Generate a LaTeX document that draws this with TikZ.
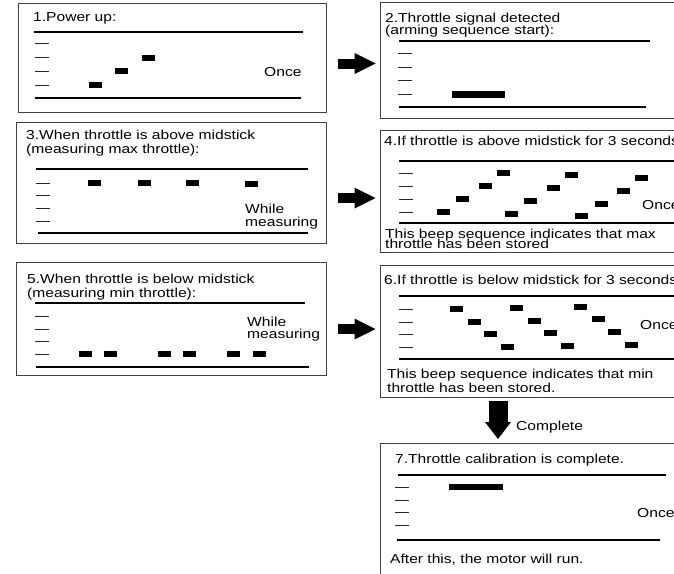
\documentclass[tikz,border=0pt]{standalone}
\usepackage{fontspec}
\setmainfont{Liberation Sans}[FakeStretch=1.2]
\usetikzlibrary{arrows.meta}

\begin{document}
\begin{tikzpicture}[x=1pt,y=-1pt]
  \def\fs{13}
  \def\tk{14}

\tikzstyle{panel}=[draw=black!75,line width=1.2pt,anchor=north west,inner sep=0pt]
\tikzstyle{beep}=[fill=black,minimum width=13pt,minimum height=6.5pt,inner sep=0pt]
\tikzstyle{lbl}=[anchor=base west,inner sep=0pt,font=\fontsize{\fs}{\fs}\selectfont]
\tikzstyle{rule}=[line width=1.1pt]
\tikzstyle{level}=[line width=0.9pt,black!85]
\tikzstyle{bigarrow}=[line width=10pt,-{Triangle[length=21pt,width=21pt,line width=0pt]},shorten <=10.5pt,shorten >=4.5pt]
\clip (0,0) rectangle (674,573);

% panels
\node[panel,minimum width=308pt,minimum height=109pt] (p1) at (18,3) {};
\node[panel,minimum width=310pt,minimum height=116pt] (p2) at (380,2) {};
\node[panel,minimum width=310pt,minimum height=121pt] (p3) at (16,122) {};
\node[panel,minimum width=310pt,minimum height=122pt] (p4) at (380,130) {};
\node[panel,minimum width=310pt,minimum height=113pt] (p5) at (16,262) {};
\node[panel,minimum width=310pt,minimum height=132pt] (p6) at (380,265) {};
\node[panel,minimum width=310pt,minimum height=137pt] (p7) at (380,443) {};

% 1
\node[lbl] (t1) at (33,21) {1.Power up:};
\draw[rule] (34,32) -- (303,32);
\draw[rule] (35,98) -- (301,98);
\foreach \y in {43,57,71,85} \draw[level] (35,\y) -- ++(\tk,0);
\foreach \x/\y [count=\i] in {95/85,121/71,148/58} \node[beep] (b1-\i) at (\x,\y) {};
\node[lbl] (o1) at (264,76) {Once};

% 2
\node[lbl] (t2a) at (385,22) {2.Throttle signal detected};
\node[lbl] (t2b) at (385,34) {(arming sequence start):};
\draw[rule] (399,41) -- (650,41);
\draw[rule] (399,107) -- (646,107);
\foreach \y in {53,67,80,94} \draw[level] (398,\y) -- ++(\tk,0);
\node[beep,minimum width=53pt] (b2) at (478.5,94.5) {};

% 3
\node[lbl] (t3a) at (26,139) {3.When throttle is above midstick};
\node[lbl] (t3b) at (26,153) {(measuring max throttle):};
\draw[rule] (36,169) -- (308,169);
\draw[rule] (38,233) -- (308,233);
\foreach \y in {183,195,208,221} \draw[level] (36,\y) -- ++(\tk,0);
\foreach \x/\y [count=\i] in {94/183,144/183,192/183,251/184} \node[beep] (b3-\i) at (\x,\y) {};
\node[lbl] (w3a) at (245,213) {While};
\node[lbl] (w3b) at (245,226) {measuring};

% 4
\node[lbl] (t4) at (384,145) {4.If throttle is above midstick for 3 seconds:};
\draw[rule] (399,161) -- (690,161);
\draw[rule] (399,223) -- (690,223);
\foreach \y in {173,186,199,212} \draw[level] (399,\y) -- ++(\tk,0);
\foreach \x/\y [count=\i] in {443/212,462/199,485/186,503/173,511/214,530/201,553/188,571/175,581/216,601/204,623/191,641/178}
  \node[beep] (b4-\i) at (\x,\y) {};
\node[lbl] (o4) at (642,209) {Once};
\node[lbl] (n4a) at (385,238) {This beep sequence indicates that max};
\node[lbl] (n4b) at (385,248) {throttle has been stored};

% 5
\node[lbl] (t5a) at (27,283) {5.When throttle is below midstick};
\node[lbl] (t5b) at (27,297) {(measuring min throttle):};
\draw[rule] (35,303) -- (305,303);
\draw[rule] (36,367) -- (309,367);
\foreach \y in {316,329,341,354} \draw[level] (35,\y) -- ++(\tk,0);
\foreach \x [count=\i] in {85,110,164,189,233,259} \node[beep] (b5-\i) at (\x,354) {};
\node[lbl] (w5a) at (247,326) {While};
\node[lbl] (w5b) at (247,338) {measuring};

% 6
\node[lbl] (t6) at (384,284) {6.If throttle is below midstick for 3 seconds:};
\draw[rule] (399,296) -- (690,296);
\draw[rule] (399,359) -- (690,359);
\foreach \y in {309,322,334,347} \draw[level] (399,\y) -- ++(\tk,0);
\foreach \x/\y [count=\i] in {456/309,474/322,490/334,507/347,516/308,534/321,550/333,567/346,580/307,598/319,614/332,631/345}
  \node[beep] (b6-\i) at (\x,\y) {};
\node[lbl] (o6) at (640,329) {Once};
\node[lbl] (n6a) at (387,378) {This beep sequence indicates that min};
\node[lbl] (n6b) at (387,392) {throttle has been stored.};

% 7
\node[lbl] (t7) at (395,463) {7.Throttle calibration is complete.};
\draw[rule] (398,475) -- (666,475);
\draw[rule] (397,540) -- (660,540);
\foreach \y in {487,500,512,525} \draw[level] (395,\y) -- ++(\tk,0);
\node[beep,minimum width=54pt] (b7) at (476,487) {};
\node[lbl] (o7) at (637,517) {Once};
\node[lbl] (n7) at (390,563) {After this, the motor will run.};

% arrows
\draw[bigarrow] (p1.east |- 0,63.5) -- (p2.west |- 0,63.5);
\draw[bigarrow] (p3.east |- 0,198) -- (p4.west |- 0,198);
\draw[bigarrow] (p5.east |- 0,329) -- (p6.west |- 0,329);
\draw[line width=19pt,-{Triangle[length=17pt,width=26pt,line width=0pt]},shorten <=3pt,shorten >=4pt]
  (p6.south -| 498,0) -- (p7.north -| 498,0);
\node[lbl] (c7) at (516,430) {Complete};
\end{tikzpicture}
\end{document}
